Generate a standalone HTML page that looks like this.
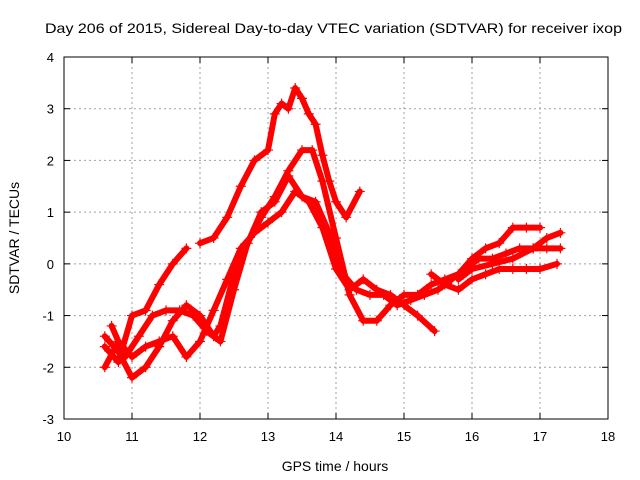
<!DOCTYPE html>
<html><head><meta charset="utf-8"><style>
body{margin:0;background:#fff}
svg{display:block;font-family:"Liberation Sans",sans-serif}
</style></head><body>
<svg id="chart" width="640" height="480">
<text x="45" y="33" font-size="14" textLength="577" lengthAdjust="spacingAndGlyphs">Day 206 of 2015, Sidereal Day-to-day VTEC variation (SDTVAR) for receiver ixop</text>
<g id="grid"></g>
<g id="ticks"></g>
<g id="series"></g>
<rect x="64" y="57" width="544" height="362" fill="none" stroke="#000" stroke-width="1"/>
<text x="335" y="471" font-size="14" text-anchor="middle">GPS time / hours</text>
<text x="19" y="238" font-size="14" text-anchor="middle" transform="rotate(-90 19 238)">SDTVAR / TECUs</text>
</svg>
<script>
const xTicks=[10,11,12,13,14,15,16,17,18];
const yTicks=[-3,-2,-1,0,1,2,3,4];
const seriesA1=[[10.6,-1.6],[10.8,-1.9],[11.0,-1.0],[11.2,-0.9],[11.4,-0.4],[11.6,0.0],[11.8,0.3]];
const seriesA2=[[12.0,0.4],[12.2,0.5],[12.4,0.9],[12.6,1.5],[12.8,2.0],[13.0,2.2],[13.1,2.9],[13.2,3.1],[13.3,3.0],[13.4,3.4],[13.5,3.2],[13.6,2.9],[13.7,2.7],[13.8,2.1],[13.9,1.6],[14.0,1.2],[14.15,0.9],[14.35,1.4]];
const seriesB=[[10.6,-1.4],[10.8,-1.7],[11.0,-2.2],[11.2,-2.0],[11.4,-1.6],[11.6,-1.1],[11.8,-0.8],[12.0,-1.0],[12.2,-1.4],[12.3,-1.2],[12.5,-0.2],[12.7,0.4],[12.9,0.9],[13.1,1.3],[13.3,1.8],[13.5,2.2],[13.65,2.2],[13.8,1.6],[14.0,0.5],[14.2,-0.6],[14.4,-1.1],[14.6,-1.1],[14.8,-0.8],[15.0,-0.6],[15.2,-0.6],[15.4,-0.4],[15.6,-0.3],[15.8,-0.2],[16.0,0.1],[16.2,0.3],[16.4,0.4],[16.6,0.7],[16.8,0.7],[17.0,0.7]];
const seriesC=[[10.7,-1.2],[10.9,-1.8],[11.1,-1.4],[11.3,-1.0],[11.5,-0.9],[11.7,-0.9],[11.9,-1.0],[12.1,-1.3],[12.3,-1.5],[12.5,-0.5],[12.7,0.4],[12.9,1.0],[13.1,1.2],[13.3,1.7],[13.5,1.3],[13.7,1.2],[13.9,0.6],[14.1,-0.2],[14.3,-0.5],[14.5,-0.6],[14.7,-0.6],[14.9,-0.8],[15.1,-0.7],[15.3,-0.6],[15.5,-0.5],[15.7,-0.3],[15.9,-0.1],[16.1,0.1],[16.3,0.1],[16.5,0.2],[16.7,0.3],[16.9,0.3],[17.1,0.3],[17.3,0.3]];
const seriesD=[[10.6,-2.0],[10.8,-1.5],[11.0,-1.8],[11.2,-1.6],[11.4,-1.5],[11.6,-1.4],[11.8,-1.8],[12.0,-1.5],[12.2,-0.9],[12.4,-0.3],[12.6,0.3],[12.8,0.6],[13.0,0.8],[13.2,1.0],[13.4,1.4],[13.6,1.2],[13.8,0.7],[14.0,-0.1],[14.2,-0.5],[14.4,-0.3],[14.6,-0.5],[14.8,-0.6],[15.0,-0.8],[15.2,-1.0],[15.45,-1.3]];
const seriesE=[[15.4,-0.2],[15.6,-0.4],[15.8,-0.5],[16.0,-0.3],[16.2,-0.2],[16.4,-0.1],[16.6,-0.1],[16.8,-0.1],[17.0,-0.1],[17.25,0.0]];
const seriesF=[[15.8,-0.3],[16.0,-0.1],[16.3,0.0],[16.6,0.1],[16.9,0.3],[17.1,0.5],[17.3,0.6]];
const allSeries=[seriesA1,seriesA2,seriesB,seriesC,seriesD,seriesE,seriesF];

const NS="http://www.w3.org/2000/svg";
const X0=64,X1=608,Y0=57,Y1=419;
function sx(h){return X0+(h-10)/(18-10)*(X1-X0);}
function sy(v){return Y0+(4-v)/(4-(-3))*(Y1-Y0);}
function mk(tag,attrs,parent){const e=document.createElementNS(NS,tag);for(const k in attrs)e.setAttribute(k,attrs[k]);parent.appendChild(e);return e;}
const grid=document.getElementById('grid'),ticks=document.getElementById('ticks'),ser=document.getElementById('series');
xTicks.forEach(t=>{
  const x=sx(t);
  if(t>10&&t<18){const l=mk('line',{x1:x,y1:Y0,x2:x,y2:Y1,stroke:'#a0a0a0','stroke-dasharray':'2,3'},grid);
  
  }
  mk('line',{x1:x,y1:Y1,x2:x,y2:Y1-6,stroke:'#000'},ticks);
  mk('line',{x1:x,y1:Y0,x2:x,y2:Y0+6,stroke:'#000'},ticks);
  const tx=mk('text',{x:x,y:Y1+22,'font-size':13,'text-anchor':'middle'},ticks);
  tx.textContent=t;
  
  
});
yTicks.forEach(t=>{
  const y=sy(t);
  if(t>-3&&t<4){const l=mk('line',{x1:X0,y1:y,x2:X1,y2:y,stroke:'#a0a0a0','stroke-dasharray':'2,3'},grid);
  
  }
  mk('line',{x1:X0,y1:y,x2:X0+6,y2:y,stroke:'#000'},ticks);
  mk('line',{x1:X1,y1:y,x2:X1-6,y2:y,stroke:'#000'},ticks);
  const tx=mk('text',{x:X0-10,y:y+5,'font-size':13,'text-anchor':'end'},ticks);
  tx.textContent=t;
  
  
});
allSeries.forEach((s,i)=>{
  const g=mk('g',{},ser);
  
  
  mk('polyline',{points:s.map(p=>sx(p[0])+','+sy(p[1])).join(' '),fill:'none',stroke:'#f00','stroke-width':6,'stroke-linejoin':'round','stroke-linecap':'round'},g);
  s.forEach(p=>{
    const x=sx(p[0]),y=sy(p[1]);
    const m=mk('path',{d:`M${x-5},${y}h10M${x},${y-5}v10`,stroke:'#f00','stroke-width':1.2},g);
    
    
  });
});
</script>
</body></html>
